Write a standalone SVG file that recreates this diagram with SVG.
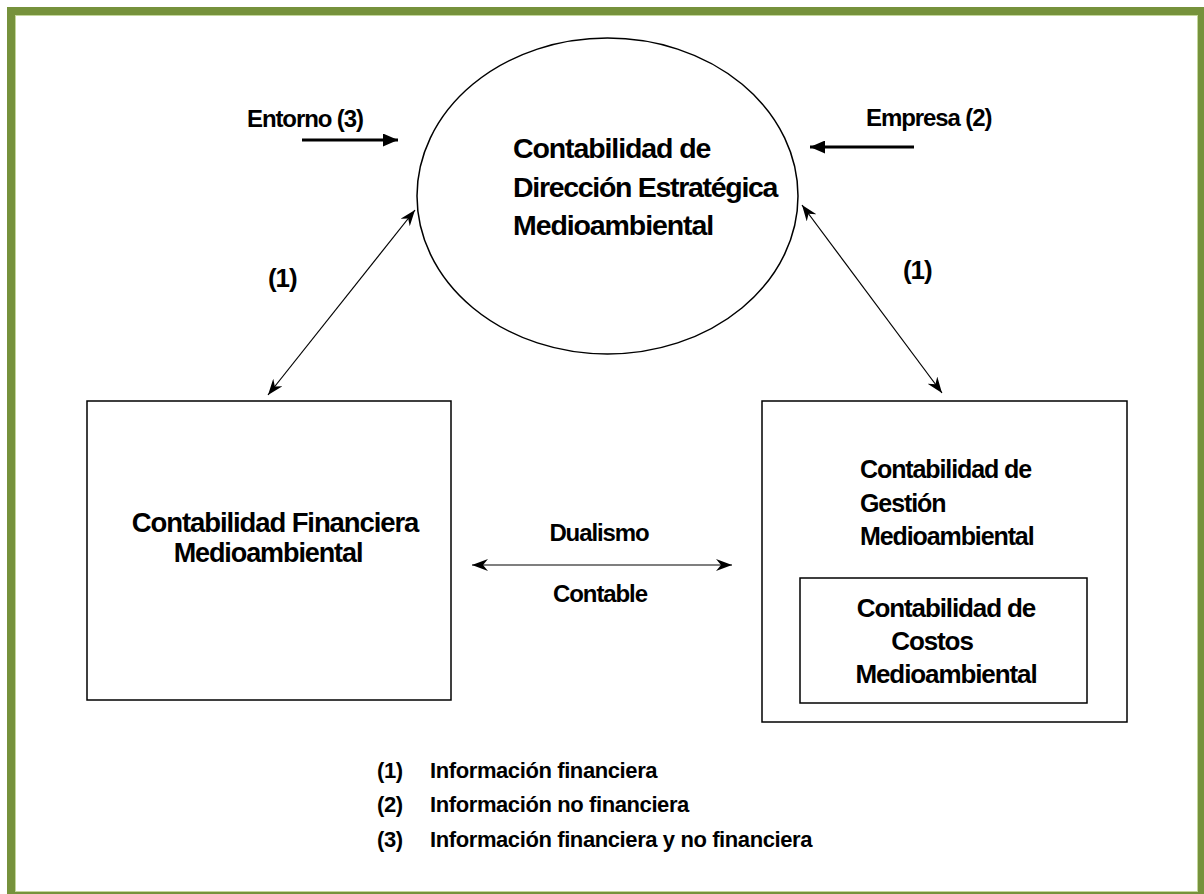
<svg xmlns="http://www.w3.org/2000/svg" width="1204" height="894" viewBox="0 0 1204 894">
<style>
text{font-family:"Liberation Sans",Arial,sans-serif;font-weight:bold;fill:#000;letter-spacing:-1.1px}
.shape{fill:#fff;stroke:#000;stroke-width:1.5}
.thin{stroke:#000;stroke-width:1.2;fill:none}
.thick{stroke:#000;stroke-width:3;fill:none}
.leg{letter-spacing:-0.4px}
</style>
<defs>
<marker id="st" viewBox="0 0 16 12" refX="16" refY="6" markerWidth="16" markerHeight="12" markerUnits="userSpaceOnUse" orient="auto-start-reverse">
<path d="M0,0 L16,6 L0,12 L5,6 Z" fill="#000"/>
</marker>
<marker id="tri" viewBox="0 0 15 13" refX="15" refY="6.5" markerWidth="15" markerHeight="13" markerUnits="userSpaceOnUse" orient="auto">
<path d="M0,0 L15,6.5 L0,13 Z" fill="#000"/>
</marker>
</defs>
<rect x="0" y="0" width="1204" height="894" fill="#fff"/>
<rect x="11" y="11" width="1191" height="885" fill="none" stroke="#76923c" stroke-width="8"/>
<rect x="15.5" y="15.5" width="1182" height="876" fill="none" stroke="#c4d79b" stroke-width="1"/>

<g id="ellipse-main">
<ellipse class="shape" cx="607.5" cy="196" rx="190.5" ry="158"/>
<text x="513" y="158" font-size="28.5">Contabilidad de</text>
<text x="513" y="197" font-size="28.5" style="letter-spacing:-1.3px">Dirección Estratégica</text>
<text x="513" y="235" font-size="28.5">Medioambiental</text>
</g>

<g id="box-financiera">
<rect class="shape" x="87" y="401" width="364" height="299"/>
<text x="275" y="532" font-size="27.5" text-anchor="middle">Contabilidad Financiera</text>
<text x="268" y="562" font-size="27" text-anchor="middle">Medioambiental</text>
</g>

<g id="box-gestion">
<rect class="shape" x="762" y="401" width="365" height="321"/>
<text x="860" y="478" font-size="25">Contabilidad de</text>
<text x="860" y="512" font-size="25">Gestión</text>
<text x="860" y="545" font-size="25">Medioambiental</text>
</g>

<g id="box-costos">
<rect class="shape" x="800" y="578" width="287" height="125" stroke-width="2"/>
<text x="946" y="617" font-size="26" text-anchor="middle">Contabilidad de</text>
<text x="932" y="650" font-size="26" text-anchor="middle">Costos</text>
<text x="946" y="683" font-size="26" text-anchor="middle">Medioambiental</text>
</g>

<g id="connectors">
<line class="thick" x1="302" y1="140" x2="398" y2="140" marker-end="url(#tri)"/>
<line class="thick" x1="914" y1="147" x2="810" y2="147" marker-end="url(#tri)"/>
<line class="thin" x1="268" y1="395" x2="415" y2="210" marker-start="url(#st)" marker-end="url(#st)"/>
<line class="thin" x1="802" y1="205" x2="942" y2="393" marker-start="url(#st)" marker-end="url(#st)"/>
<line class="thin" x1="472" y1="565" x2="732" y2="565" marker-start="url(#st)" marker-end="url(#st)"/>
</g>

<g id="labels">
<text x="247" y="127" font-size="24">Entorno (3)</text>
<text x="866" y="126" font-size="24">Empresa (2)</text>
<text x="268" y="287" font-size="26">(1)</text>
<text x="903" y="279" font-size="26">(1)</text>
<text x="599" y="541" font-size="24" text-anchor="middle">Dualismo</text>
<text x="600" y="602" font-size="24" text-anchor="middle">Contable</text>
</g>

<g id="legend">
<text class="leg" x="377" y="778" font-size="22">(1)</text>
<text class="leg" x="430" y="778" font-size="22">Información financiera</text>
<text class="leg" x="377" y="812" font-size="22">(2)</text>
<text class="leg" x="430" y="812" font-size="22">Información no financiera</text>
<text class="leg" x="377" y="847" font-size="22">(3)</text>
<text class="leg" x="430" y="847" font-size="22">Información financiera y no financiera</text>
</g>
</svg>
